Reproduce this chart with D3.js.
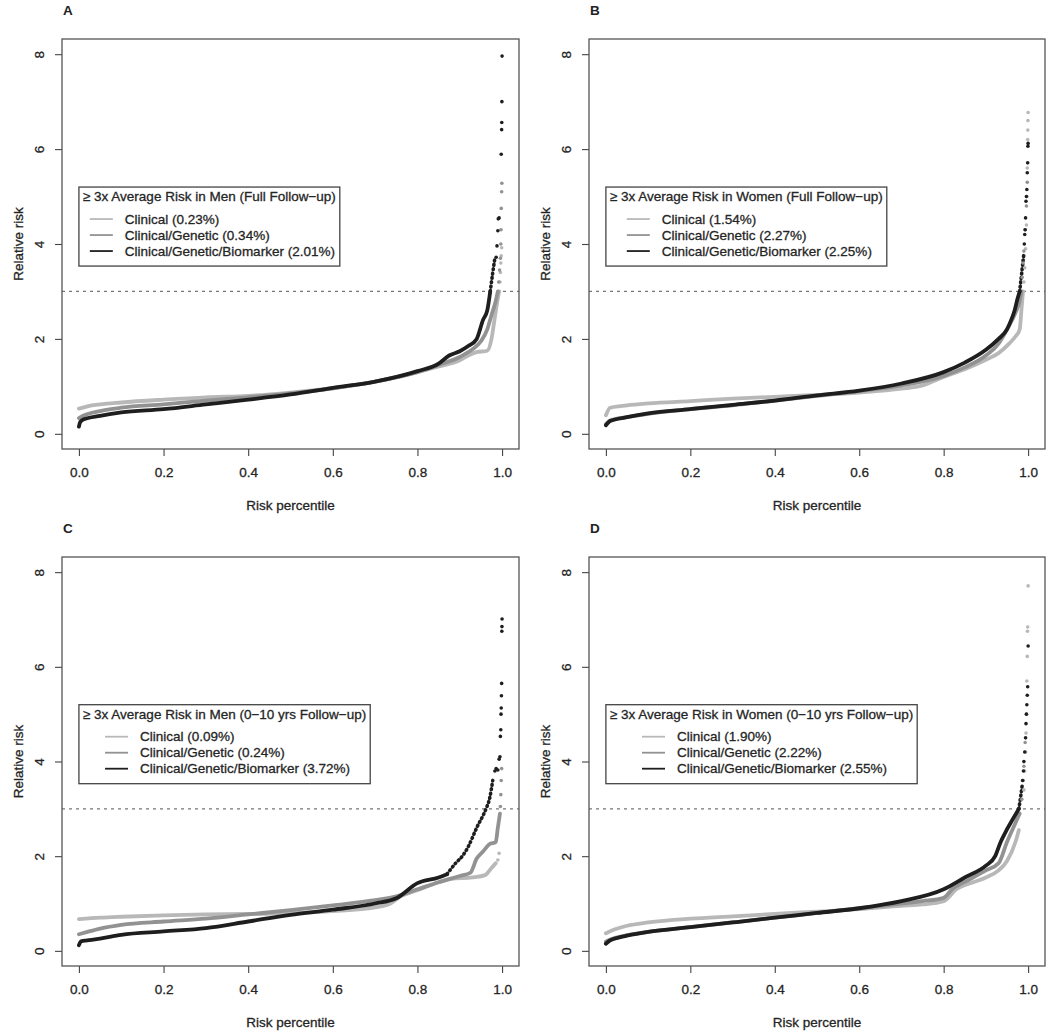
<!DOCTYPE html>
<html><head><meta charset="utf-8">
<script src="https://cdn.jsdelivr.net/npm/d3@7"></script>
<style>
body{margin:0;background:#fff;}
text{font-family:"Liberation Sans",Arial,Helvetica,sans-serif;fill:#222;}
</style></head>
<body><svg id="chart" width="1050" height="1031"></svg>
<script>
// ---------- DATA ----------
const panelLetters = ["A","B","C","D"];
const seriesNames = ["Clinical","Clinical/Genetic","Clinical/Genetic/Biomarker"];
const legendTitles = [
  "≥ 3x Average Risk in Men (Full Follow−up)",
  "≥ 3x Average Risk in Women (Full Follow−up)",
  "≥ 3x Average Risk in Men (0−10 yrs Follow−up)",
  "≥ 3x Average Risk in Women (0−10 yrs Follow−up)"
];
const pctA = ["0.23%","0.34%","2.01%"];
const pctB = ["1.54%","2.27%","2.25%"];
const pctC = ["0.09%","0.24%","3.72%"];
const pctD = ["1.90%","2.22%","2.55%"];
const xTicks = [0,0.2,0.4,0.6,0.8,1.0];
const yTicks = [0,2,4,6,8];
const threshold = 3;
const xLabel = "Risk percentile";
const yLabel = "Relative risk";

// [percentile, relative risk]
const A_clinical = [[0,0.53],[0.02,0.58],[0.05,0.62],[0.1,0.66],[0.2,0.72],[0.3,0.77],[0.4,0.8],[0.5,0.87],[0.6,0.96],[0.7,1.1],[0.8,1.3],[0.85,1.42],[0.9,1.55],[0.92,1.65],[0.94,1.72],[0.965,1.75],[0.975,2.0],[0.982,2.4],[0.988,2.75],[0.993,3.0]];
const A_clinical_tail = [[0.995,3.2],[0.996,3.4],[0.997,3.6],[0.998,3.75],[0.999,3.92]];
const A_genetic = [[0,0.33],[0.01,0.38],[0.05,0.48],[0.1,0.55],[0.2,0.62],[0.3,0.7],[0.4,0.77],[0.5,0.85],[0.6,0.96],[0.7,1.1],[0.8,1.3],[0.85,1.45],[0.9,1.62],[0.93,1.78],[0.95,1.95],[0.965,2.2],[0.975,2.5],[0.985,2.8],[0.99,3.0]];
const A_genetic_tail = [[0.992,3.2],[0.994,3.45],[0.996,3.7],[0.997,4.0],[0.9975,4.3],[0.998,4.75],[0.999,5.1],[0.9995,5.28]];
const A_biomarker = [[0,0.15],[0.003,0.25],[0.01,0.3],[0.05,0.38],[0.1,0.45],[0.2,0.52],[0.3,0.62],[0.4,0.72],[0.5,0.83],[0.6,0.97],[0.7,1.1],[0.8,1.32],[0.85,1.48],[0.875,1.65],[0.9,1.74],[0.92,1.85],[0.94,2.0],[0.955,2.4],[0.965,2.6],[0.972,3.0],[0.978,3.4],[0.983,3.7]];
const A_biomarker_tail = [[0.986,3.72],[0.988,3.96],[0.99,4.28],[0.991,4.53],[0.993,4.55],[0.998,5.89],[0.999,6.41],[0.9993,6.56],[0.9996,7.0],[1.0,7.96]];

const B_clinical = [[0,0.39],[0.01,0.55],[0.05,0.6],[0.1,0.64],[0.2,0.69],[0.3,0.74],[0.4,0.78],[0.5,0.82],[0.6,0.87],[0.7,0.95],[0.75,1.02],[0.8,1.2],[0.85,1.36],[0.9,1.56],[0.93,1.7],[0.955,1.9],[0.97,2.05],[0.98,2.2],[0.985,2.7],[0.988,3.0]];
const B_clinical_tail = [[0.99,3.2],[0.992,3.5],[0.994,3.9],[0.996,4.4],[0.997,5.0],[0.998,5.6],[0.999,6.2],[0.9993,6.4],[0.9996,6.6],[1.0,6.77]];
const B_genetic = [[0,0.2],[0.01,0.28],[0.05,0.35],[0.1,0.42],[0.2,0.52],[0.3,0.6],[0.4,0.7],[0.5,0.8],[0.6,0.9],[0.7,1.02],[0.8,1.22],[0.85,1.4],[0.9,1.65],[0.93,1.9],[0.95,2.2],[0.97,2.55],[0.98,2.8],[0.984,3.0]];
const B_genetic_tail = [[0.986,3.3],[0.988,3.6],[0.99,3.85],[0.993,4.3],[0.996,4.8],[0.998,5.3]];
const B_biomarker = [[0,0.18],[0.01,0.27],[0.05,0.35],[0.1,0.43],[0.2,0.52],[0.3,0.61],[0.4,0.7],[0.5,0.81],[0.6,0.91],[0.7,1.06],[0.8,1.3],[0.85,1.5],[0.9,1.77],[0.93,2.0],[0.95,2.2],[0.96,2.4],[0.968,2.6],[0.975,2.85],[0.98,3.0],[0.985,3.4],[0.99,3.8]];
const B_biomarker_tail = [[0.991,4.0],[0.992,4.2],[0.993,4.3],[0.994,4.55],[0.995,4.9],[0.996,5.0],[0.997,5.15],[0.998,5.5],[0.999,5.71],[0.9995,6.06],[1.0,6.12]];

const C_clinical = [[0,0.67],[0.05,0.7],[0.1,0.72],[0.2,0.75],[0.3,0.77],[0.4,0.78],[0.5,0.8],[0.6,0.84],[0.7,0.92],[0.736,1.0],[0.76,1.15],[0.8,1.28],[0.85,1.45],[0.88,1.52],[0.93,1.55],[0.96,1.6],[0.975,1.75],[0.985,1.85]];
const C_clinical_tail = [[0.99,1.92],[0.993,2.06]];
const C_genetic = [[0,0.35],[0.02,0.4],[0.05,0.47],[0.1,0.55],[0.2,0.62],[0.3,0.68],[0.4,0.77],[0.5,0.86],[0.6,0.96],[0.7,1.07],[0.75,1.15],[0.8,1.3],[0.85,1.45],[0.9,1.58],[0.925,1.65],[0.94,1.95],[0.955,2.1],[0.97,2.25],[0.985,2.3],[0.99,2.6],[0.995,2.9]];
const C_genetic_tail = [[0.996,3.05],[0.997,3.3],[0.998,3.6],[0.999,3.85]];
const C_biomarker = [[0,0.12],[0.005,0.2],[0.02,0.22],[0.05,0.26],[0.1,0.34],[0.2,0.41],[0.3,0.48],[0.4,0.62],[0.5,0.76],[0.6,0.87],[0.7,1.0],[0.75,1.11],[0.8,1.43],[0.85,1.55],[0.87,1.62],[0.89,1.85],[0.906,2.0],[0.92,2.2],[0.94,2.6],[0.962,3.0],[0.97,3.2],[0.978,3.6]];
const C_biomarker_tail = [[0.983,3.8],[0.986,3.85],[0.99,3.82],[0.993,4.05],[0.995,4.1],[0.996,4.53],[0.997,4.67],[0.9975,5.0],[0.998,5.13],[0.9985,5.39],[0.999,5.65],[0.9994,6.75],[0.9997,6.85],[1.0,7.01]];

const D_clinical = [[0,0.37],[0.02,0.45],[0.05,0.53],[0.1,0.6],[0.2,0.68],[0.3,0.73],[0.4,0.78],[0.5,0.83],[0.6,0.88],[0.7,0.95],[0.75,0.98],[0.8,1.05],[0.83,1.3],[0.87,1.45],[0.9,1.55],[0.93,1.7],[0.95,1.9],[0.97,2.3],[0.978,2.55]];
const D_clinical_tail = [[0.99,3.4],[0.992,3.8],[0.994,4.2],[0.995,4.6],[0.996,5.0],[0.997,5.7],[0.998,6.22],[0.9985,6.75],[0.999,6.84],[1.0,7.71]];
const D_genetic = [[0,0.2],[0.02,0.27],[0.05,0.33],[0.1,0.4],[0.2,0.5],[0.3,0.6],[0.4,0.7],[0.5,0.8],[0.6,0.9],[0.7,1.0],[0.75,1.05],[0.8,1.12],[0.82,1.3],[0.86,1.5],[0.9,1.7],[0.93,1.85],[0.95,2.3],[0.97,2.7],[0.98,2.9]];
const D_genetic_tail = [[0.985,3.2],[0.988,3.6],[0.99,3.9],[0.993,4.4]];
const D_biomarker = [[0,0.15],[0.01,0.22],[0.03,0.28],[0.05,0.32],[0.1,0.4],[0.2,0.5],[0.3,0.6],[0.4,0.7],[0.5,0.8],[0.6,0.9],[0.7,1.05],[0.8,1.3],[0.85,1.55],[0.9,1.8],[0.922,2.0],[0.935,2.3],[0.946,2.5],[0.965,2.8],[0.978,3.0],[0.983,3.3],[0.986,3.5]];
const D_biomarker_tail = [[0.987,3.6],[0.989,3.8],[0.99,4.0],[0.992,4.2],[0.994,4.5],[0.995,4.8],[0.996,5.0],[0.997,5.2],[0.998,5.4],[0.999,5.58],[1.0,6.44]];

// ---------- LAYOUT ----------
const seriesColors = ["#b8b8b8","#929292","#1e1e1e"];
const cols = [{l:62,r:519},{l:589,r:1045}];
const rows = [{t:39,b:449},{t:557,b:966}];
const FS = 13.5;
const panels = [
  {letter:0, col:0,row:0, title:legendTitles[0], pct:pctA, lines:[A_clinical,A_genetic,A_biomarker], tails:[A_clinical_tail,A_genetic_tail,A_biomarker_tail], sparseFrom:[2,2,0.972]},
  {letter:1, col:1,row:0, title:legendTitles[1], pct:pctB, lines:[B_clinical,B_genetic,B_biomarker], tails:[B_clinical_tail,B_genetic_tail,B_biomarker_tail], sparseFrom:[2,2,0.98]},
  {letter:2, col:0,row:1, title:legendTitles[2], pct:pctC, lines:[C_clinical,C_genetic,C_biomarker], tails:[C_clinical_tail,C_genetic_tail,C_biomarker_tail], sparseFrom:[2,2,0.87]},
  {letter:3, col:1,row:1, title:legendTitles[3], pct:pctD, lines:[D_clinical,D_genetic,D_biomarker], tails:[D_clinical_tail,D_genetic_tail,D_biomarker_tail], sparseFrom:[2,2,0.978]}
];

const svg = d3.select("#chart");
svg.append("rect").attr("width",1050).attr("height",1031).attr("fill","#fff");

function styleText(sel){
  sel.attr("font-size",FS).attr("fill","#2a2a2a").attr("stroke","#2a2a2a").attr("stroke-width",0.3)
     .attr("font-family","Liberation Sans, Arial, sans-serif");
}

panels.forEach(p=>{
  const c = cols[p.col], r = rows[p.row];
  const x = d3.scaleLinear().domain([-0.04,1.04]).range([c.l,c.r]);
  const y = d3.scaleLinear().domain([-0.32,8.32]).range([r.b,r.t]);
  const g = svg.append("g");

  // panel letter
  g.append("text").attr("x",c.l+1).attr("y",r.t-24).attr("font-size",13.5).attr("font-weight","bold")
   .attr("fill","#111").text(panelLetters[p.letter]);

  // x axis
  const xa = g.append("g").attr("transform",`translate(0,${r.b})`)
    .call(d3.axisBottom(x).tickValues(xTicks).tickFormat(d3.format(".1f")).tickSize(7).tickPadding(11));
  xa.select(".domain").remove();
  xa.selectAll("line").attr("stroke","#444").attr("stroke-width",1.1);
  styleText(xa.selectAll("text"));

  // y axis
  const ya = g.append("g").attr("transform",`translate(${c.l},0)`)
    .call(d3.axisLeft(y).tickValues(yTicks).tickSize(7).tickPadding(0));
  ya.select(".domain").remove();
  ya.selectAll("line").attr("stroke","#444").attr("stroke-width",1.1);
  styleText(ya.selectAll("text"));
  ya.selectAll("text").attr("text-anchor","middle").attr("dy",0).attr("x",0)
    .attr("transform","translate(-18,0) rotate(-90)");

  // axis titles
  styleText(g.append("text").attr("x",(c.l+c.r)/2).attr("y",r.b+61).attr("text-anchor","middle").text(xLabel));
  styleText(g.append("text").attr("transform",`translate(${c.l-39},${(r.t+r.b)/2}) rotate(-90)`)
   .attr("text-anchor","middle").text(yLabel));

  // threshold dashed line
  g.append("line").attr("x1",c.l).attr("x2",c.r).attr("y1",y(threshold)).attr("y2",y(threshold))
   .attr("stroke","#777").attr("stroke-width",1.2).attr("stroke-dasharray","3,4");

  // series
  const line = d3.line().x(d=>x(d[0])).y(d=>y(d[1])).curve(d3.curveMonotoneX);
  p.lines.forEach((s,i)=>{
    const cut = p.sparseFrom[i];
    const dense = s.filter(d=>d[0]<=cut);
    const sparse = s.filter(d=>d[0]>=cut);
    g.append("path").datum(dense).attr("d",line).attr("fill","none")
     .attr("stroke",seriesColors[i]).attr("stroke-width",3.8).attr("stroke-linecap","round").attr("stroke-linejoin","round");
    if (sparse.length>1){
      g.append("path").datum(sparse).attr("d",line).attr("fill","none")
       .attr("stroke",seriesColors[i]).attr("stroke-width",3.6).attr("stroke-linecap","round")
       .attr("stroke-dasharray","0.8,3.6");
    }
  });
  p.tails.forEach((s,i)=>{
    g.selectAll(null).data(s).enter().append("circle")
     .attr("cx",d=>x(d[0])).attr("cy",d=>y(d[1])).attr("r",1.8).attr("fill",seriesColors[i]);
  });

  // plot box
  g.append("rect").attr("x",c.l).attr("y",r.t).attr("width",c.r-c.l).attr("height",r.b-r.t)
   .attr("fill","none").attr("stroke","#555").attr("stroke-width",1.3);

  // legend
  const lx = x(0), ly = y(5.2);
  const lg = g.append("g");
  const box = lg.append("rect").attr("x",lx).attr("y",ly).attr("height",79)
    .attr("fill","#fff").attr("stroke","#444").attr("stroke-width",1.3);
  const tt = lg.append("text").attr("y",ly+14).text(p.title);
  styleText(tt);
  const tw = tt.node().getComputedTextLength();
  const bw = tw + 8;
  box.attr("width",bw);
  tt.attr("x",lx+bw/2).attr("text-anchor","middle");
  const labels = seriesNames.map((n,i)=>`${n} (${p.pct[i]})`);
  const lt = labels.map((t,i)=>{ const e = lg.append("text").attr("y",ly+32+16*i+4.8).text(t); styleText(e); return e; });
  const maxw = d3.max(lt, t=>t.node().getComputedTextLength());
  const blockW = 23 + 12 + maxw;
  const bx = lx + (bw - blockW)/2 + 3;
  lt.forEach((t,i)=>{
    t.attr("x",bx+35);
    lg.append("line").attr("x1",bx).attr("x2",bx+23).attr("y1",ly+32+16*i).attr("y2",ly+32+16*i)
      .attr("stroke",seriesColors[i]).attr("stroke-width",1.8);
  });
});
</script></body></html>
